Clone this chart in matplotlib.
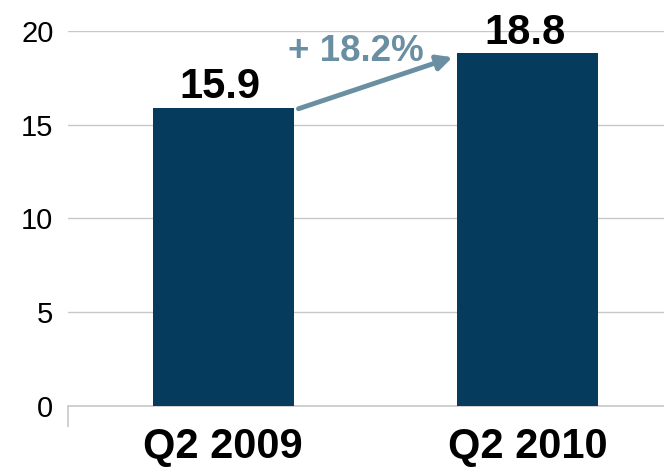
import matplotlib.pyplot as plt
import numpy as np

plt.rcParams['font.family'] = ['Liberation Sans', 'DejaVu Sans']

# Data
categories = ["Q2 2009", "Q2 2010"]
values = [15.9, 18.8]
growth_label = "+ 18.2%"
yticks = [0, 5, 10, 15, 20]

bar_color = "#053B5C"
arrow_color = "#6A8EA2"
grid_color = "#C8C8C8"

fig = plt.figure(figsize=(6.64, 4.67), dpi=100)
ax = fig.add_axes([68 / 664, 61.3 / 467, 612 / 664, 374.7 / 467])

x = np.arange(len(categories))
width = 0.464
ax.bar(x, values, width=width, color=bar_color, zorder=3)

# Value labels above bars
for xi, v in zip(x, values):
    ax.text(xi - 0.01, v + 0.5, f"{v:.1f}", ha="center", va="baseline",
            fontsize=30, fontweight="bold", color="black")

# Growth arrow between bars
ax.annotate("", xy=(x[1] - width / 2 - 0.015, values[1] - 0.2),
            xytext=(x[0] + width / 2 + 0.015, values[0] - 0.05),
            arrowprops=dict(arrowstyle="-|>,head_length=0.9,head_width=0.45",
                            color=arrow_color, lw=3.5, shrinkA=0, shrinkB=0),
            zorder=4)
ax.text(0.436, 18.38, growth_label, ha="center", va="baseline",
        fontsize=26.5, fontweight="bold", color=arrow_color)

ax.set_xlim(-0.51, 1.5)
ax.set_ylim(0, 20)
ax.set_yticks(yticks)
ax.set_xticks(x)
ax.set_xticklabels(categories, fontsize=30, fontweight="bold")
ax.tick_params(axis="x", length=0, pad=15)
ax.tick_params(axis="y", length=0, pad=10.5, labelsize=21)
ax.set_xticks([-0.51], minor=True)
ax.tick_params(axis="x", which="minor", length=15, width=1.2, color=grid_color)

ax.yaxis.grid(True, color=grid_color, lw=1, zorder=0)
for side in ["top", "right", "left"]:
    ax.spines[side].set_visible(False)
ax.spines["bottom"].set_color(grid_color)
ax.spines["bottom"].set_linewidth(1.2)

plt.savefig("out.png", dpi=100)
